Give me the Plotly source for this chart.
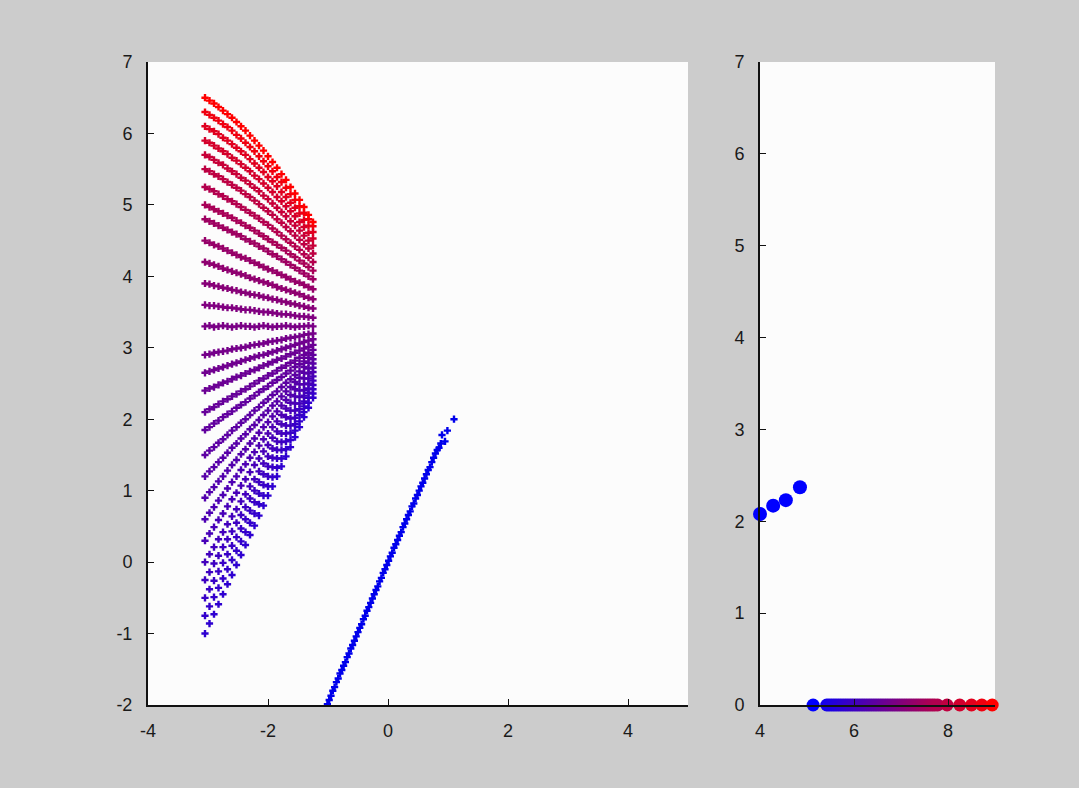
import plotly.graph_objects as go

# ---------------- data ----------------
# left panel: fan-shaped point cloud, one row of points per list, sampled at shared x columns
cloud_x = [-3.05, -2.975, -2.9, -2.825, -2.75, -2.675, -2.6, -2.525, -2.45, -2.375,
           -2.3, -2.225, -2.15, -2.075, -2.0, -1.925, -1.85, -1.775, -1.7, -1.625,
           -1.55, -1.475, -1.4, -1.325, -1.25]

cloud_rows = [
    [-1.00, -0.86, -0.73, -0.59, -0.45, -0.31, -0.18, -0.04, 0.10, 0.24, 0.38, 0.51, 0.65, 0.79, 0.93, 1.06, 1.20, 1.34, 1.48, 1.61, 1.75, 1.89, 2.03, 2.16, 2.30],
    [-0.75, -0.62, -0.49, -0.36, -0.23, -0.10, 0.03, 0.16, 0.29, 0.42, 0.55, 0.68, 0.81, 0.93, 1.06, 1.19, 1.32, 1.45, 1.58, 1.71, 1.84, 1.97, 2.10, 2.23, 2.36],
    [-0.50, -0.38, -0.26, -0.13, -0.01, 0.11, 0.23, 0.35, 0.47, 0.60, 0.72, 0.84, 0.96, 1.08, 1.20, 1.33, 1.45, 1.57, 1.69, 1.81, 1.93, 2.06, 2.18, 2.30, 2.42],
    [-0.25, -0.14, -0.02, 0.09, 0.21, 0.32, 0.43, 0.55, 0.66, 0.77, 0.89, 1.00, 1.12, 1.23, 1.34, 1.46, 1.57, 1.68, 1.80, 1.91, 2.02, 2.14, 2.25, 2.37, 2.48],
    [0.00, 0.11, 0.21, 0.32, 0.42, 0.53, 0.64, 0.74, 0.85, 0.95, 1.06, 1.16, 1.27, 1.38, 1.48, 1.59, 1.69, 1.80, 1.91, 2.01, 2.12, 2.22, 2.33, 2.43, 2.54],
    [0.30, 0.40, 0.49, 0.59, 0.68, 0.78, 0.88, 0.97, 1.07, 1.16, 1.26, 1.36, 1.45, 1.55, 1.64, 1.74, 1.83, 1.93, 2.03, 2.12, 2.22, 2.31, 2.41, 2.50, 2.60],
    [0.60, 0.69, 0.77, 0.86, 0.94, 1.03, 1.12, 1.20, 1.29, 1.37, 1.46, 1.54, 1.63, 1.72, 1.80, 1.89, 1.97, 2.06, 2.15, 2.23, 2.32, 2.40, 2.49, 2.57, 2.66],
    [0.90, 0.98, 1.05, 1.13, 1.20, 1.28, 1.36, 1.43, 1.51, 1.58, 1.66, 1.73, 1.81, 1.89, 1.96, 2.04, 2.11, 2.19, 2.27, 2.34, 2.42, 2.49, 2.57, 2.64, 2.72],
    [1.20, 1.27, 1.33, 1.40, 1.46, 1.53, 1.60, 1.66, 1.73, 1.79, 1.86, 1.92, 1.99, 2.06, 2.12, 2.19, 2.25, 2.32, 2.39, 2.45, 2.52, 2.58, 2.65, 2.71, 2.78],
    [1.50, 1.56, 1.61, 1.67, 1.72, 1.78, 1.84, 1.89, 1.95, 2.00, 2.06, 2.12, 2.17, 2.23, 2.28, 2.34, 2.39, 2.45, 2.51, 2.56, 2.62, 2.67, 2.73, 2.79, 2.84],
    [1.85, 1.89, 1.94, 1.98, 2.03, 2.07, 2.11, 2.16, 2.20, 2.24, 2.29, 2.33, 2.38, 2.42, 2.46, 2.51, 2.55, 2.59, 2.64, 2.68, 2.73, 2.77, 2.81, 2.86, 2.90],
    [2.10, 2.14, 2.17, 2.21, 2.25, 2.28, 2.32, 2.35, 2.39, 2.42, 2.46, 2.50, 2.54, 2.57, 2.61, 2.64, 2.68, 2.72, 2.75, 2.79, 2.82, 2.86, 2.90, 2.93, 2.97],
    [2.40, 2.43, 2.45, 2.48, 2.51, 2.53, 2.56, 2.59, 2.61, 2.64, 2.67, 2.69, 2.72, 2.75, 2.77, 2.80, 2.83, 2.85, 2.88, 2.91, 2.93, 2.96, 2.99, 3.01, 3.04],
    [2.65, 2.67, 2.69, 2.71, 2.73, 2.75, 2.77, 2.79, 2.81, 2.83, 2.85, 2.87, 2.89, 2.90, 2.92, 2.94, 2.96, 2.98, 3.00, 3.02, 3.04, 3.06, 3.08, 3.10, 3.12],
    [2.90, 2.91, 2.93, 2.94, 2.95, 2.96, 2.98, 2.99, 3.00, 3.01, 3.03, 3.04, 3.05, 3.06, 3.08, 3.09, 3.10, 3.11, 3.13, 3.14, 3.15, 3.16, 3.18, 3.19, 3.20],
    [3.30, 3.31, 3.29, 3.30, 3.31, 3.30, 3.29, 3.30, 3.31, 3.30, 3.30, 3.29, 3.30, 3.31, 3.30, 3.29, 3.30, 3.30, 3.31, 3.30, 3.29, 3.30, 3.30, 3.31, 3.30],
    [3.60, 3.59, 3.59, 3.58, 3.57, 3.56, 3.56, 3.55, 3.54, 3.53, 3.53, 3.52, 3.51, 3.50, 3.50, 3.49, 3.48, 3.47, 3.47, 3.46, 3.45, 3.44, 3.44, 3.43, 3.42],
    [3.90, 3.89, 3.87, 3.86, 3.84, 3.83, 3.81, 3.80, 3.78, 3.77, 3.75, 3.74, 3.73, 3.71, 3.70, 3.68, 3.67, 3.65, 3.64, 3.62, 3.61, 3.59, 3.58, 3.56, 3.55],
    [4.20, 4.18, 4.16, 4.14, 4.11, 4.09, 4.07, 4.05, 4.03, 4.01, 3.98, 3.96, 3.94, 3.92, 3.90, 3.88, 3.85, 3.83, 3.81, 3.79, 3.77, 3.75, 3.72, 3.70, 3.68],
    [4.50, 4.47, 4.44, 4.42, 4.39, 4.36, 4.33, 4.30, 4.27, 4.25, 4.22, 4.19, 4.16, 4.13, 4.10, 4.08, 4.05, 4.02, 3.99, 3.96, 3.93, 3.91, 3.88, 3.85, 3.82],
    [4.80, 4.77, 4.74, 4.71, 4.68, 4.65, 4.62, 4.59, 4.56, 4.52, 4.49, 4.46, 4.42, 4.39, 4.35, 4.31, 4.28, 4.24, 4.20, 4.16, 4.12, 4.08, 4.04, 4.00, 3.96],
    [5.00, 4.97, 4.94, 4.91, 4.88, 4.85, 4.82, 4.78, 4.75, 4.71, 4.68, 4.64, 4.60, 4.56, 4.52, 4.48, 4.44, 4.40, 4.36, 4.31, 4.27, 4.22, 4.18, 4.13, 4.08],
    [5.25, 5.22, 5.19, 5.15, 5.12, 5.08, 5.05, 5.01, 4.97, 4.93, 4.89, 4.85, 4.81, 4.76, 4.72, 4.67, 4.62, 4.57, 4.52, 4.47, 4.42, 4.37, 4.31, 4.26, 4.20],
    [5.50, 5.47, 5.43, 5.40, 5.36, 5.32, 5.28, 5.24, 5.20, 5.15, 5.11, 5.06, 5.01, 4.96, 4.91, 4.86, 4.80, 4.75, 4.69, 4.63, 4.57, 4.51, 4.45, 4.39, 4.32],
    [5.70, 5.67, 5.63, 5.59, 5.56, 5.51, 5.47, 5.43, 5.38, 5.34, 5.29, 5.24, 5.19, 5.13, 5.08, 5.02, 4.96, 4.90, 4.84, 4.77, 4.71, 4.64, 4.57, 4.50, 4.43],
    [5.90, 5.87, 5.83, 5.79, 5.75, 5.71, 5.66, 5.62, 5.57, 5.52, 5.47, 5.41, 5.36, 5.30, 5.24, 5.18, 5.11, 5.05, 4.98, 4.91, 4.84, 4.76, 4.69, 4.61, 4.53],
    [6.10, 6.06, 6.03, 5.99, 5.94, 5.90, 5.85, 5.80, 5.75, 5.70, 5.64, 5.58, 5.52, 5.46, 5.39, 5.33, 5.26, 5.18, 5.11, 5.03, 4.96, 4.88, 4.79, 4.71, 4.62],
    [6.30, 6.26, 6.22, 6.18, 6.13, 6.09, 6.04, 5.98, 5.93, 5.87, 5.81, 5.75, 5.68, 5.61, 5.54, 5.47, 5.39, 5.32, 5.24, 5.15, 5.07, 4.98, 4.89, 4.80, 4.70],
    [6.50, 6.46, 6.42, 6.37, 6.32, 6.27, 6.22, 6.16, 6.10, 6.04, 5.97, 5.90, 5.83, 5.76, 5.68, 5.60, 5.52, 5.43, 5.35, 5.25, 5.16, 5.07, 4.97, 4.86, 4.76],
]

# colour value of each row (0 = blue, 1 = red)
cloud_row_color = [0.18, 0.20, 0.22, 0.24, 0.26, 0.28, 0.30, 0.32, 0.34, 0.36,
                   0.38, 0.40, 0.42, 0.44, 0.46, 0.48, 0.50, 0.53, 0.56, 0.59,
                   0.62, 0.66, 0.70, 0.74, 0.78, 0.83, 0.88, 0.94, 1.00]

# left panel: blue line of points
line_x = [-1.01, -0.98, -0.95, -0.92, -0.89, -0.86, -0.83, -0.80, -0.77, -0.74,
          -0.71, -0.68, -0.65, -0.62, -0.59, -0.56, -0.53, -0.50, -0.47, -0.44,
          -0.41, -0.38, -0.35, -0.32, -0.29, -0.26, -0.23, -0.20, -0.17, -0.14,
          -0.11, -0.08, -0.05, -0.02, 0.01, 0.04, 0.07, 0.10, 0.13, 0.16,
          0.19, 0.22, 0.25, 0.28, 0.31, 0.34, 0.37, 0.40, 0.43, 0.46,
          0.49, 0.52, 0.55, 0.58, 0.61, 0.64, 0.67, 0.70, 0.73, 0.76,
          0.79, 0.82, 0.85, 0.88, 0.90, 0.95, 0.99, 1.10]
line_y = [-1.99, -1.93, -1.87, -1.80, -1.75, -1.68, -1.63, -1.56, -1.51, -1.45,
          -1.40, -1.33, -1.28, -1.21, -1.16, -1.10, -1.04, -0.98, -0.92, -0.87,
          -0.80, -0.75, -0.68, -0.63, -0.57, -0.51, -0.45, -0.39, -0.34, -0.27,
          -0.22, -0.15, -0.10, -0.04, 0.02, 0.08, 0.13, 0.20, 0.25, 0.31,
          0.37, 0.42, 0.49, 0.54, 0.60, 0.66, 0.71, 0.78, 0.82, 0.89,
          0.94, 1.00, 1.06, 1.11, 1.17, 1.23, 1.29, 1.33, 1.40, 1.46,
          1.52, 1.57, 1.60, 1.66, 1.78, 1.69, 1.84, 2.00]

# right panel: four blue points
pts_x = [4.00, 4.28, 4.55, 4.85]
pts_y = [2.08, 2.17, 2.23, 2.37]

# right panel: points on the x axis, coloured by position
axis_x = [5.13, 5.42, 5.47, 5.52, 5.57, 5.62, 5.67, 5.72, 5.77, 5.82, 5.87,
          5.92, 5.97, 6.02, 6.07, 6.12, 6.17, 6.22, 6.27, 6.32, 6.37,
          6.42, 6.47, 6.52, 6.57, 6.62, 6.67, 6.72, 6.77, 6.82, 6.87,
          6.92, 6.97, 7.02, 7.07, 7.12, 7.17, 7.22, 7.27, 7.32, 7.37,
          7.42, 7.47, 7.52, 7.57, 7.62, 7.67, 7.72, 7.78, 7.98, 8.25,
          8.50, 8.72, 8.94]
axis_y = [0.0] * len(axis_x)

# ticks
left_xticks = [-4, -2, 0, 2, 4]
left_yticks = [-2, -1, 0, 1, 2, 3, 4, 5, 6, 7]
right_xticks = [4, 6, 8]
right_yticks = [0, 1, 2, 3, 4, 5, 6, 7]

# ---------------- figure ----------------
BLUE_RED = [[0.0, "rgb(0,0,255)"], [1.0, "rgb(255,0,0)"]]

cx, cy, cc = [], [], []
for row, col in zip(cloud_rows, cloud_row_color):
    for xv, yv in zip(cloud_x, row):
        cx.append(xv)
        cy.append(yv)
        cc.append(col)

fig = go.Figure()

fig.add_trace(go.Scatter(
    x=cx, y=cy, mode="markers", xaxis="x", yaxis="y",
    marker=dict(symbol="cross", size=6, color=cc, colorscale=BLUE_RED,
                cmin=0, cmax=1, line=dict(width=0)),
    hoverinfo="skip", showlegend=False))

fig.add_trace(go.Scatter(
    x=line_x, y=line_y, mode="markers", xaxis="x", yaxis="y",
    marker=dict(symbol="cross", size=6, color="rgb(0,0,235)", line=dict(width=0)),
    hoverinfo="skip", showlegend=False))

fig.add_trace(go.Scatter(
    x=axis_x, y=axis_y, mode="markers", xaxis="x2", yaxis="y2", cliponaxis=False,
    marker=dict(symbol="circle", size=13, color=axis_x, colorscale=BLUE_RED,
                cmin=5.13, cmax=8.94, line=dict(width=0)),
    hoverinfo="skip", showlegend=False))

fig.add_trace(go.Scatter(
    x=pts_x, y=pts_y, mode="markers", xaxis="x2", yaxis="y2", cliponaxis=False,
    marker=dict(symbol="circle", size=14, color="rgb(0,0,255)", line=dict(width=0)),
    hoverinfo="skip", showlegend=False))


def labels(vals):
    return [str(v).replace("\u2212", "-") for v in vals]


axis_style = dict(
    showgrid=False, zeroline=False, showline=True, linecolor="#111111", linewidth=2,
    ticks="inside", ticklen=6, tickwidth=1.2, tickcolor="#111111",
    tickfont=dict(family="Liberation Sans, Arial, sans-serif", size=18, color="#1a1a1a"),
    mirror=False, automargin=False,
)

# plot area: margins fixed, axes placed by domain (pixel positions of the reference)
ML, MR, MT, MB = 40, 40, 40, 40
PW, PH = 1079 - ML - MR, 788 - MT - MB


def xdom(a, b):
    return [(a - ML) / PW, (b - ML) / PW]


def ydom(top, bottom):
    return [(788 - MB - bottom) / PH, (788 - MB - top) / PH]


fig.update_layout(
    width=1079, height=788,
    margin=dict(l=ML, r=MR, t=MT, b=MB, autoexpand=False),
    paper_bgcolor="#cccccc",
    plot_bgcolor="#fcfcfc",
    xaxis=dict(domain=xdom(148, 688), range=[-4, 5], tickvals=left_xticks,
               ticktext=labels(left_xticks), anchor="y", ticklabelstandoff=8, **axis_style),
    yaxis=dict(domain=ydom(62, 705), range=[-2, 7], tickvals=left_yticks,
               ticktext=labels(left_yticks), anchor="x", ticklabelstandoff=10, **axis_style),
    xaxis2=dict(domain=xdom(760, 995), range=[4, 9], tickvals=right_xticks,
                ticktext=labels(right_xticks), anchor="y2", ticklabelstandoff=8, **axis_style),
    yaxis2=dict(domain=ydom(62, 705), range=[0, 7], tickvals=right_yticks,
                ticktext=labels(right_yticks), anchor="x2", ticklabelstandoff=10, **axis_style),
)

fig.write_html("out.html")
